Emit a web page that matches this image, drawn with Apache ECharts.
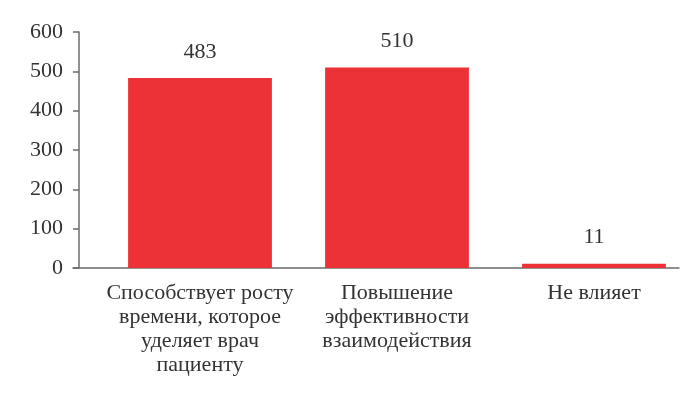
<!DOCTYPE html>
<html>
<head>
<meta charset="utf-8">
<script src="https://cdn.jsdelivr.net/npm/echarts@6/dist/echarts.min.js"></script>
<style>html,body{margin:0;padding:0;background:#fff}#c{width:700px;height:395px}</style>
</head>
<body>
<div id="c"></div>
<script>
const categories = [
  "Способствует росту\nвремени, которое\nуделяет врач\nпациенту",
  "Повышение\nэффективности\nвзаимодействия",
  "Не влияет"
];
const values = [483, 510, 11];
const yTicks = [0, 100, 200, 300, 400, 500, 600];

const FONT = "Liberation Serif";
const TXT = "#333333";
const chart = echarts.init(document.getElementById('c'), null, {renderer: 'canvas'});
chart.setOption({
  animation: false,
  backgroundColor: '#fff',
  grid: [
    {left: 101.5, right: 7.5, top: 32, bottom: 127},
    {left: 73, right: 21, top: 32, bottom: 127}
  ],
  xAxis: [
    {
      type: 'category', gridIndex: 0, data: categories,
      axisLine: {show: false}, axisTick: {show: false},
      axisLabel: {fontFamily: FONT, fontSize: 22, color: TXT, lineHeight: 24, margin: 13, interval: 0}
    },
    {
      type: 'category', gridIndex: 1, data: [''],
      axisLine: {show: true, lineStyle: {color: '#6b6b6b', width: 1.5}},
      axisTick: {show: false}, axisLabel: {show: false}
    }
  ],
  yAxis: [
    {
      type: 'value', gridIndex: 0, min: yTicks[0], max: yTicks[yTicks.length - 1], interval: 100,
      offset: 22.5,
      axisLine: {show: true, lineStyle: {color: '#6b6b6b', width: 1.5}},
      axisTick: {show: true, length: 6, inside: false, lineStyle: {color: '#6b6b6b', width: 1.5}},
      splitLine: {show: false},
      axisLabel: {fontFamily: FONT, fontSize: 22, color: TXT, margin: 16}
    },
    {type: 'value', gridIndex: 1, show: false, min: 0, max: 600}
  ],
  series: [{
    type: 'bar', xAxisIndex: 0, yAxisIndex: 0, data: values,
    barCategoryGap: '27%',
    itemStyle: {color: '#ED3237'},
    label: {show: true, position: 'top', distance: 15, fontFamily: FONT, fontSize: 22, color: TXT}
  }]
});
</script>
</body>
</html>
